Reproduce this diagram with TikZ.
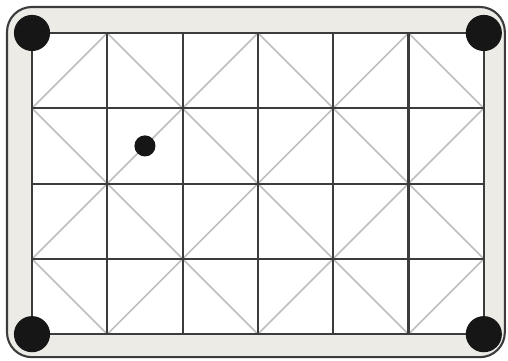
\documentclass[tikz,border=0pt]{standalone}
\usepackage{tikz}

\definecolor{framegray}{RGB}{236,235,230}
\definecolor{lineink}{RGB}{60,60,60}
\definecolor{diagink}{RGB}{190,190,190}
\definecolor{pieceink}{RGB}{22,22,22}

\begin{document}
\begin{tikzpicture}[x=1cm, y=1cm, frame/.style={draw=lineink, line width=0.8pt, fill=framegray, rounded corners=0.33cm}, gridline/.style={draw=lineink, line width=0.8pt}, diagline/.style={draw=diagink, line width=0.6pt}, piece/.style={fill=pieceink}]
	\useasboundingbox (-0.425,-0.345) rectangle (6.321,4.438);
	\draw[frame] (-0.332,-0.305) rectangle (6.279,4.345);
	\fill[white] (0,0) rectangle (6,4);
	\foreach \x in {0,...,5} {\foreach \y in {0,...,3} {\pgfmathtruncatemacro{\t}{mod(\x+\y+1,2)} \draw[diagline] (\x,\y+\t) -- (\x+1,\y+1-\t);}}
	\draw[gridline] (0,0) grid (6,4);
	\foreach \x/\y in {0/0, 6/0, 0/4, 6/4} {\fill[piece] (\x,\y) circle (0.24);}
	\fill[piece] (1.5,2.5) circle (0.14);
\end{tikzpicture}
\end{document}
